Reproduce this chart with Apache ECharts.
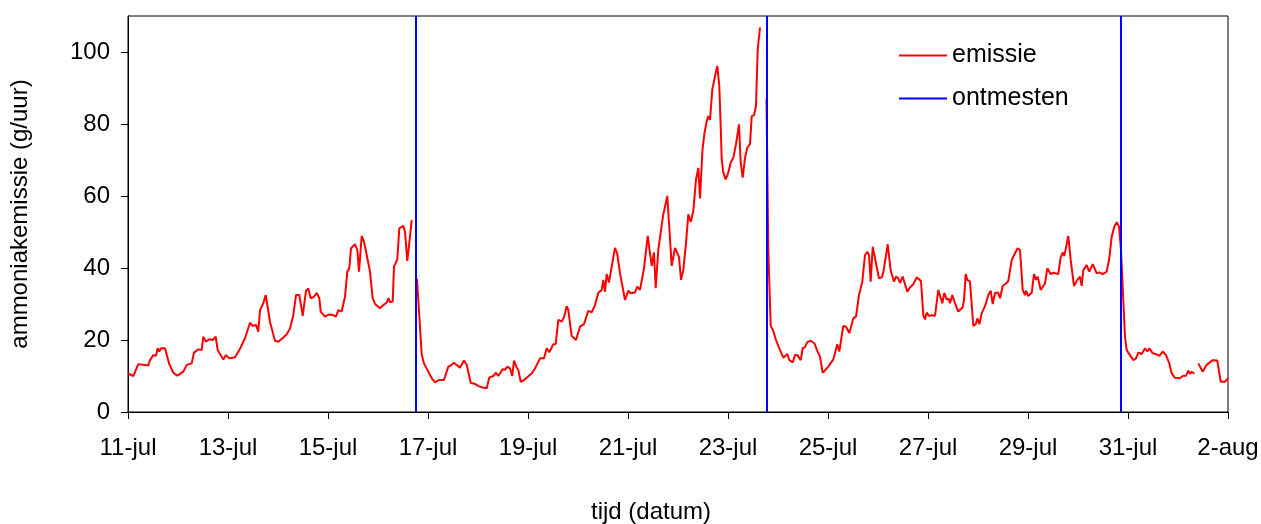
<!DOCTYPE html>
<html>
<head>
<meta charset="utf-8">
<script src="https://cdn.jsdelivr.net/npm/echarts@6/dist/echarts.min.js"></script>
<style>
  html, body { margin: 0; padding: 0; background: #fff; }
  #chart { width: 1261px; height: 524px; }
</style>
</head>
<body>
<div id="chart"></div>
<script>
// Time in days since 11 July 00:00; null marks a gap in the measurements.
const dagen = [
  0, 0.106, 0.206, 0.406, 0.44, 0.506, 0.56, 0.594, 0.626, 0.66, 0.74, 0.826, 0.906, 0.986,
  1.04, 1.106, 1.174, 1.274, 1.32, 1.406, 1.474, 1.506, 1.56, 1.626, 1.694, 1.754, 1.794, 1.906, 1.96,
  2.026, 2.14, 2.226, 2.34, 2.44, 2.494, 2.56, 2.606, 2.64, 2.706, 2.754, 2.786, 2.84, 2.94,
  3.006, 3.106, 3.174, 3.24, 3.306, 3.36, 3.426, 3.494, 3.56, 3.606, 3.654, 3.72, 3.774, 3.826, 3.854, 3.94,
  4.026, 4.106, 4.16, 4.206, 4.274, 4.34, 4.386, 4.426, 4.46, 4.54, 4.586, 4.62, 4.674, 4.72, 4.774, 4.84, 4.894, 4.94, 4.974,
  5.04, 5.106, 5.174, 5.206, 5.24, 5.294, 5.32, 5.386, 5.426, 5.506, 5.54, 5.586, 5.626, 5.674,
  5.72,
  5.78, 5.874, 5.92, 5.974, 6.074, 6.14, 6.226, 6.32, 6.406, 6.454, 6.52, 6.64, 6.72, 6.774, 6.854, 6.94,
  7.006, 7.094, 7.174, 7.226, 7.306, 7.36, 7.406, 7.494, 7.54, 7.586, 7.64, 7.686, 7.72, 7.774, 7.806, 7.854, 7.906, 7.96,
  8.074, 8.14, 8.24, 8.32, 8.374, 8.426, 8.506, 8.554, 8.606, 8.674, 8.72, 8.774, 8.806, 8.874, 8.96,
  9.04, 9.12, 9.206, 9.274, 9.34, 9.406, 9.474, 9.506, 9.54, 9.574, 9.62, 9.674, 9.74, 9.786, 9.84, 9.94,
  10.006, 10.054, 10.14, 10.186, 10.24, 10.32, 10.36, 10.394, 10.474, 10.52, 10.554, 10.606, 10.674, 10.706, 10.746, 10.786, 10.874, 10.906, 10.94,
  11.02, 11.06, 11.106, 11.16, 11.206, 11.254, 11.306, 11.36, 11.406, 11.44, 11.49, 11.53, 11.574, 11.606, 11.64, 11.686, 11.74, 11.786, 11.826, 11.854, 11.874, 11.906, 11.954,
  12.006, 12.054, 12.106, 12.16, 12.22, 12.254, 12.294, 12.34, 12.386, 12.44, 12.474, 12.52, 12.56, 12.594, 12.64,
  12.7,
  12.77, 12.806, 12.854, 12.906, 12.96, 13.04, 13.106, 13.14, 13.186, 13.226, 13.294, 13.34, 13.386, 13.454, 13.494, 13.54, 13.586, 13.654, 13.726, 13.786, 13.84, 13.894, 13.92,
  14.006, 14.106, 14.186, 14.226, 14.306, 14.36, 14.426, 14.506, 14.56, 14.62, 14.686, 14.74, 14.786, 14.82, 14.854, 14.894, 14.94,
  15.02, 15.074, 15.106, 15.14, 15.194, 15.254, 15.32, 15.36, 15.406, 15.44, 15.494, 15.586, 15.64, 15.706, 15.774, 15.86, 15.906, 15.94, 15.974,
  16.02, 16.074, 16.14, 16.206, 16.286, 16.326, 16.374, 16.42, 16.44, 16.486, 16.54, 16.606, 16.694, 16.72, 16.754, 16.786, 16.84, 16.906, 16.954, 16.986,
  17.026, 17.074, 17.14, 17.206, 17.254, 17.294, 17.34, 17.406, 17.44, 17.494, 17.56, 17.606, 17.674, 17.74, 17.794, 17.84, 17.894, 17.94, 17.96,
  18.006, 18.074, 18.12, 18.16, 18.194, 18.254, 18.294, 18.34, 18.386, 18.426, 18.454, 18.506, 18.606, 18.654, 18.694, 18.726, 18.806, 18.854, 18.92, 18.986,
  19.04, 19.074, 19.106, 19.174, 19.226, 19.294, 19.374, 19.426, 19.494, 19.574, 19.626, 19.674, 19.726, 19.774, 19.82, 19.86, 19.906, 19.94, 19.974,
  20.04, 20.106, 20.16, 20.206, 20.274, 20.34, 20.386, 20.426, 20.494, 20.574, 20.626, 20.694, 20.76, 20.826, 20.874, 20.94,
  21.04, 21.094, 21.16, 21.206, 21.24, 21.274, 21.326,
  21.36,
  21.406, 21.494, 21.574, 21.694, 21.786, 21.854, 21.94, 22.0
];

// Ammonia emission in g/hour at each time above.
const emissie = [
  10.7, 10.0, 13.3, 12.9, 14.4, 15.8, 15.6, 17.7, 16.8, 17.7, 17.7, 13.3, 10.9, 10.1,
  10.6, 11.2, 13.1, 13.5, 16.5, 17.4, 17.2, 20.9, 19.5, 20.2, 20.0, 20.9, 17.2, 14.6, 15.8,
  14.9, 15.2, 17.2, 20.5, 24.8, 23.9, 24.2, 22.3, 28.3, 30.2, 32.5, 32.0, 25.0, 19.8,
  19.5, 20.7, 21.6, 23.2, 26.9, 32.5, 32.5, 26.7, 33.7, 34.3, 31.6, 32.0, 33.1, 31.6, 27.9, 26.5,
  27.1, 26.9, 26.5, 28.3, 27.9, 32.0, 39.0, 39.9, 45.5, 46.6, 45.0, 39.0, 48.9, 47.3, 43.6, 39.0, 31.6, 30.0, 30.2,
  28.8, 29.7, 30.4, 31.6, 30.5, 30.7, 40.4, 42.4, 51.0, 51.7, 50.1, 42.0, 46.9, 53.3,
  null,
  37.0, 16.0, 13.5, 12.1, 9.4, 8.2, 8.9, 8.9, 12.6, 12.9, 13.7, 12.3, 14.3, 13.1, 8.1, 7.8,
  7.2, 6.8, 6.6, 9.6, 10.0, 10.9, 10.0, 11.9, 11.7, 12.6, 12.1, 10.0, 14.3, 12.3, 11.7, 8.4, 8.7, 9.4,
  10.7, 12.1, 14.9, 14.9, 17.7, 16.6, 18.8, 18.9, 25.6, 25.1, 26.3, 29.4, 28.3, 21.1, 20.0,
  23.7, 24.4, 28.1, 27.7, 29.7, 33.1, 33.9, 36.7, 33.4, 38.3, 36.0, 40.4, 45.6, 43.9, 38.5, 31.1,
  33.7, 33.0, 33.2, 34.8, 33.9, 39.9, 40.4, 48.9, 40.6, 44.3, 34.4, 45.0, 51.9, 54.9, 55.2, 60.0, 40.6, 40.8, 45.6,
  43.1, 36.7, 39.4, 46.9, 54.9, 52.8, 55.8, 64.6, 67.8, 59.3, 72.9, 77.5, 80.8, 82.2, 81.1, 89.6, 93.3, 96.1, 90.6, 79.4, 70.2, 66.5, 64.6,
  66.5, 69.3, 70.6, 74.4, 79.9, 69.3, 65.1, 70.6, 73.4, 74.4, 82.2, 82.4, 85.0, 100.7, 106.8,
  null,
  87.0, 45.0, 24.0, 22.5, 20.0, 17.2, 15.1, 14.9, 16.1, 14.4, 13.8, 15.8, 15.8, 14.4, 17.7, 18.0, 19.4, 19.8, 19.1, 17.0, 15.4, 10.9, 10.6,
  12.6, 14.6, 18.8, 16.8, 23.9, 23.7, 21.9, 26.0, 26.5, 32.5, 36.2, 43.6, 44.5, 43.6, 36.2, 45.9, 42.7,
  37.1, 37.4, 38.7, 38.3, 46.6, 39.3, 36.2, 37.6, 37.1, 35.9, 37.6, 33.4, 34.6, 35.5, 37.4, 36.4, 26.9, 25.7, 27.6,
  26.7, 26.9, 26.7, 33.9, 30.2, 33.1, 31.3, 31.4, 30.2, 32.5, 30.2, 27.9, 29.1, 31.1, 38.3, 36.7, 36.2, 23.9, 24.4, 26.0,
  24.4, 27.4, 29.4, 32.5, 33.7, 30.0, 33.1, 33.1, 31.6, 35.0, 35.7, 36.4, 42.2, 44.1, 45.5, 45.0, 33.9, 32.5, 33.7,
  32.2, 33.1, 38.3, 36.7, 37.6, 33.9, 34.4, 35.7, 39.9, 39.9, 38.3, 38.7, 38.3, 43.0, 44.3, 43.3, 48.9, 42.2, 35.0, 36.7,
  37.6, 35.0, 39.4, 40.8, 39.0, 41.1, 38.5, 38.8, 38.3, 39.0, 42.7, 48.7, 51.5, 52.7, 51.5, 45.0, 31.1, 20.9, 17.2,
  15.8, 14.4, 14.9, 16.5, 16.1, 17.7, 16.8, 17.7, 16.3, 16.0, 15.6, 16.8, 15.8, 13.5, 10.7, 9.5,
  9.4, 10.0, 10.1, 11.5, 10.6, 11.2, 10.6,
  null,
  13.5, 11.2, 13.1, 14.4, 14.3, 8.4, 8.4, 9.4
];

// Moments when the manure was removed (days since 11 July).
const ontmestDagen = [5.76, 12.78, 19.86];

const xTickValues = [0, 2, 4, 6, 8, 10, 12, 14, 16, 18, 20, 22];
const xTickLabels = ['11-jul', '13-jul', '15-jul', '17-jul', '19-jul', '21-jul',
                     '23-jul', '25-jul', '27-jul', '29-jul', '31-jul', '2-aug'];
const yTickValues = [0, 20, 40, 60, 80, 100];

const FONT = "'Liberation Sans', Arial, sans-serif";

const emissieData = dagen.map((d, i) => [d, emissie[i] === null ? '-' : emissie[i]]);

const chart = echarts.init(document.getElementById('chart'), null, { renderer: 'canvas' });

chart.setOption({
  animation: false,
  backgroundColor: '#ffffff',
  textStyle: { fontFamily: FONT, color: '#000' },
  grid: {
    left: 128, right: 33, top: 16, bottom: 112,
    outerBoundsMode: 'none',
    containLabel: false,
    show: true, borderColor: '#000', borderWidth: 1, backgroundColor: 'transparent'
  },
  legend: {
    orient: 'vertical',
    left: 899, top: 43,
    padding: 0,
    itemGap: 18,
    itemWidth: 48, itemHeight: 2,
    icon: 'rect',
    textStyle: { fontFamily: FONT, fontSize: 25, color: '#000' },
    data: ['emissie', 'ontmesten']
  },
  xAxis: {
    type: 'value',
    min: 0, max: 22, interval: 2,
    name: 'tijd (datum)',
    nameLocation: 'middle',
    nameGap: 88,
    nameTextStyle: { fontFamily: FONT, fontSize: 24, color: '#000', padding: [0, 54, 0, 0] },
    axisLine: { show: true, lineStyle: { color: '#000', width: 1 } },
    axisTick: { show: true, length: 7, lineStyle: { color: '#000' }, customValues: xTickValues },
    axisLabel: {
      fontFamily: FONT, fontSize: 24, color: '#000', margin: 24,
      customValues: xTickValues,
      formatter: v => xTickLabels[xTickValues.indexOf(Math.round(v))] || ''
    },
    splitLine: { show: false }
  },
  yAxis: {
    type: 'value',
    min: 0, max: 110, interval: 20,
    name: 'ammoniakemissie (g/uur)',
    nameLocation: 'middle',
    nameGap: 96,
    nameTextStyle: { fontFamily: FONT, fontSize: 24, color: '#000' },
    axisLine: { show: true, lineStyle: { color: '#000', width: 1 } },
    axisTick: { show: true, length: 7, lineStyle: { color: '#000' }, customValues: yTickValues },
    axisLabel: {
      fontFamily: FONT, fontSize: 24, color: '#000', margin: 18,
      customValues: yTickValues
    },
    splitLine: { show: false }
  },
  series: [
    {
      name: 'emissie',
      type: 'line',
      data: emissieData,
      color: '#ff0000',
      symbol: 'none',
      connectNulls: false,
      lineStyle: { color: '#ff0000', width: 2 },
      emphasis: { disabled: true },
      z: 2
    },
    {
      name: 'ontmesten',
      type: 'line',
      data: [],
      color: '#0000ff',
      symbol: 'none',
      lineStyle: { color: '#0000ff', width: 2 },
      markLine: {
        silent: true,
        symbol: ['none', 'none'],
        label: { show: false },
        lineStyle: { color: '#0000ff', width: 2, type: 'solid' },
        emphasis: { disabled: true },
        data: ontmestDagen.map(d => ({ xAxis: d }))
      },
      z: 3
    }
  ]
});
</script>
</body>
</html>
